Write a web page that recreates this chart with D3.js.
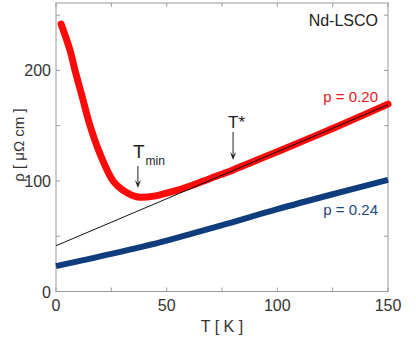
<!DOCTYPE html>
<html>
<head>
<meta charset="utf-8">
<script src="https://cdn.jsdelivr.net/npm/d3@7"></script>
<style>
  body { margin: 0; background: #fff; }
  text { font-family: Arial, "Liberation Sans", sans-serif; }
</style>
</head>
<body>
<svg id="chart" width="416" height="349"></svg>
<script>
// data
const tempRed = [2.3, 6.3, 8.6, 12, 15.4, 20, 25.8, 30, 37, 45, 50, 60, 70, 80, 100, 125, 150];
const rhoRed  = [242, 218.5, 200, 175, 150, 124, 100, 92, 85.5, 86.5, 89, 95, 102.5, 110, 126.5, 147.5, 169.5];
const tempBlue = [0, 25, 50, 75, 100, 125, 150];
const rhoBlue  = [23, 34, 46, 60, 74.5, 88, 101];
const fitT = [0, 150];
const fitRho = [41.4, 168.9];
const xTicks = [0, 50, 100, 150];
const yTicks = [0, 100, 200];

const margin = { left: 56, right: 28, top: 3, bottom: 57 };
const W = 416, H = 349;

const svg = d3.select("#chart");
const x = d3.scaleLinear().domain([0, 150]).range([margin.left, W - margin.right]);
const y = d3.scaleLinear().domain([0, 261]).range([H - margin.bottom - 0.5, margin.top]);

const frameColor = "#9a9a9a";
const textColor = "#333";

// frame + ticks (inward, all four sides)
const g = svg.append("g");
const x0 = x(0), x1 = x(150), y0 = y(0), y1 = y(261);
g.append("rect")
    .attr("x", x0).attr("y", y1)
    .attr("width", x1 - x0).attr("height", y0 - y1)
    .attr("fill", "none").attr("stroke", frameColor).attr("stroke-width", 1);

const xMinor = d3.range(0, 151, 25);
const yMinor = d3.range(0, 261, 50);
xMinor.forEach(t => {
    g.append("line").attr("x1", x(t)).attr("x2", x(t)).attr("y1", y0).attr("y2", y0 - 4).attr("stroke", frameColor);
    g.append("line").attr("x1", x(t)).attr("x2", x(t)).attr("y1", y1).attr("y2", y1 + 4).attr("stroke", frameColor);
});
yMinor.forEach(v => {
    g.append("line").attr("x1", x0).attr("x2", x0 + 4).attr("y1", y(v)).attr("y2", y(v)).attr("stroke", frameColor);
    g.append("line").attr("x1", x1).attr("x2", x1 - 4).attr("y1", y(v)).attr("y2", y(v)).attr("stroke", frameColor);
});

// tick labels
g.selectAll(".xl").data(xTicks).join("text")
    .attr("x", d => x(d)).attr("y", y0 + 19)
    .attr("text-anchor", "middle")
    .attr("font-size", 16).attr("fill", textColor)
    .text(d => d);
g.selectAll(".yl").data(yTicks).join("text")
    .attr("x", x0 - 5).attr("y", d => y(d) + 6)
    .attr("text-anchor", "end")
    .attr("font-size", 16).attr("fill", textColor)
    .text(d => d);

// axis titles
svg.append("text")
    .attr("x", 222).attr("y", 332)
    .attr("text-anchor", "middle")
    .attr("font-size", 16).attr("fill", textColor)
    .text("T [ K ]");
svg.append("text")
    .attr("transform", "translate(24,145) rotate(-90)")
    .attr("text-anchor", "middle")
    .attr("font-size", 15).attr("fill", textColor)
    .text("ρ [ μΩ cm ]");

const line = d3.line().x(d => x(d[0])).y(d => y(d[1])).curve(d3.curveCatmullRom.alpha(0.5));

// curves
svg.append("path")
    .datum(d3.zip(tempBlue, rhoBlue))
    .attr("d", line)
    .attr("fill", "none").attr("stroke", "#0f3c7c").attr("stroke-width", 6);

svg.append("path")
    .datum(d3.zip(tempRed, rhoRed))
    .attr("d", line)
    .attr("fill", "none").attr("stroke", "#ff0a0a").attr("stroke-width", 7)
    .attr("stroke-linecap", "round");

svg.append("path")
    .datum(d3.zip(fitT, fitRho))
    .attr("d", d3.line().x(d => x(d[0])).y(d => y(d[1])))
    .attr("fill", "none").attr("stroke", "#111").attr("stroke-width", 1);

// labels
svg.append("text")
    .attr("x", 378).attr("y", 26)
    .attr("text-anchor", "end")
    .attr("font-size", 16).attr("fill", "#222")
    .text("Nd-LSCO");
svg.append("text")
    .attr("x", 378).attr("y", 102)
    .attr("text-anchor", "end")
    .attr("font-size", 15).attr("fill", "#e8141c")
    .text("p = 0.20");
svg.append("text")
    .attr("x", 378).attr("y", 215)
    .attr("text-anchor", "end")
    .attr("font-size", 15).attr("fill", "#24497f")
    .text("p = 0.24");

// arrows
function arrow(xp, ya, yb) {
    svg.append("line")
        .attr("x1", xp).attr("x2", xp).attr("y1", ya).attr("y2", yb - 6)
        .attr("stroke", "#222").attr("stroke-width", 1);
    svg.append("path")
        .attr("d", `M${xp - 3},${yb - 8} L${xp},${yb} L${xp + 3},${yb - 8} L${xp},${yb - 5} Z`)
        .attr("fill", "#222");
}

const tminX = x(37);
arrow(tminX, 166, 188);
const tmin = svg.append("text")
    .attr("x", tminX - 5).attr("y", 158)
    .attr("font-size", 19).attr("fill", "#222");
tmin.append("tspan").text("T");
tmin.append("tspan").attr("dy", 7).attr("font-size", 12).attr("dx", 1).text("min");

const tstarX = x(80);
arrow(tstarX, 132, 160);
svg.append("text")
    .attr("x", tstarX - 5).attr("y", 128)
    .attr("font-size", 17).attr("fill", "#222")
    .text("T*");
</script>
</body>
</html>
